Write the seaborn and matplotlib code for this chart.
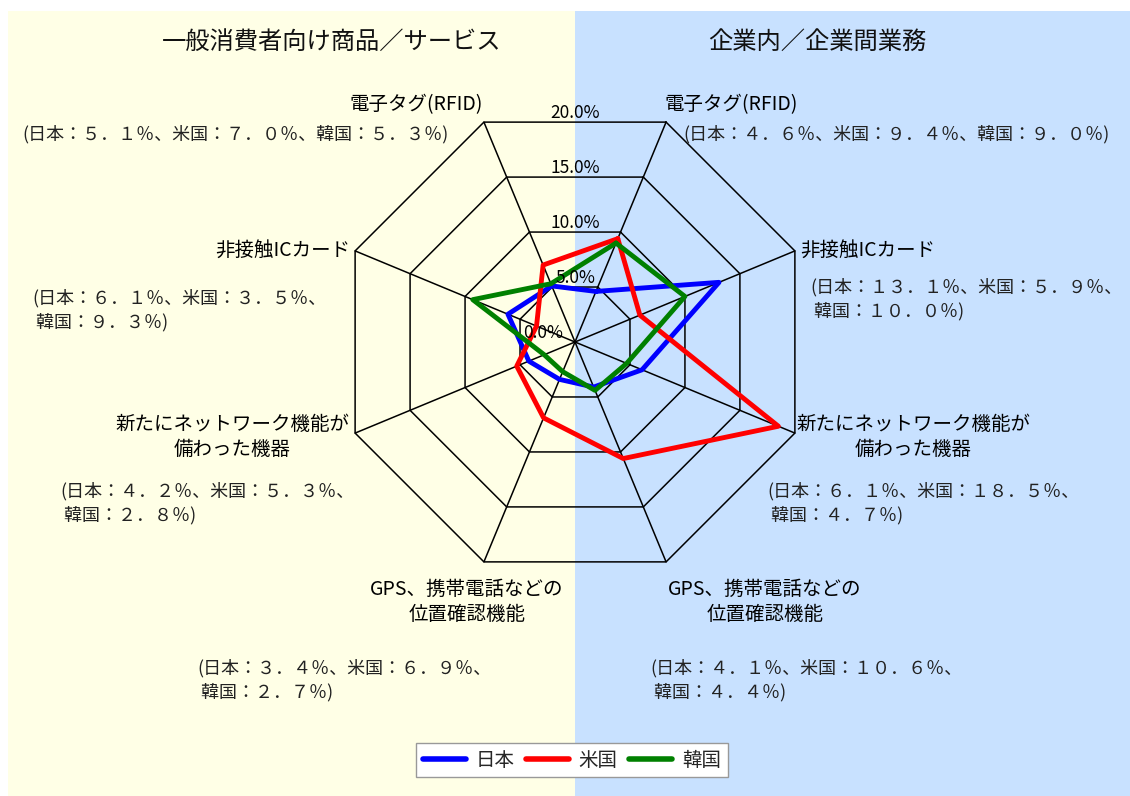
import numpy as np
import pandas as pd
import matplotlib
matplotlib.use("Agg")
import matplotlib.pyplot as plt
import seaborn as sns
from matplotlib.patches import Rectangle

# categories (same four items on each side)
categories = ["電子タグ(RFID)", "非接触ICカード",
              "新たにネットワーク機能が\n備わった機器",
              "GPS、携帯電話などの\n位置確認機能"]
countries = ["日本", "米国", "韓国"]

# 一般消費者向け商品／サービス (left half)
consumer_jp = [5.1, 6.1, 4.2, 3.4]
consumer_us = [7.0, 3.5, 5.3, 6.9]
consumer_kr = [5.3, 9.3, 2.8, 2.7]

# 企業内／企業間業務 (right half)
business_jp = [4.6, 13.1, 6.1, 4.1]
business_us = [9.4, 5.9, 18.5, 10.6]
business_kr = [9.0, 10.0, 4.7, 4.4]

r_ticks = [0, 5, 10, 15, 20]
colors = {"日本": "#0000FF", "米国": "#FF0000", "韓国": "#008000"}

W, H = 1130, 796


def px(x, y):
    return x / W, 1 - y / H


FW = str.maketrans("0123456789.%", "０１２３４５６７８９．％")


def fmt(v):
    return f"{v:.1f}%".translate(FW)


def value_text(jp, us, kr, split):
    a = f"(日本：{fmt(jp)}、米国：{fmt(us)}、"
    b = f"韓国：{fmt(kr)})"
    return a + ("\n " + b if split else b)


sns.set_theme(style="white")
plt.rcParams["font.family"] = ["Noto Sans CJK JP", "DejaVu Sans"]

fig = plt.figure(figsize=(W / 100, H / 100), dpi=100)
fig.patch.set_facecolor("white")
fig.add_artist(Rectangle(px(8, 796), 567 / W, 785 / H, transform=fig.transFigure,
                         facecolor="#FFFFE6", edgecolor="none", zorder=0))
fig.add_artist(Rectangle(px(575, 796), 555 / W, 785 / H, transform=fig.transFigure,
                         facecolor="#C8E1FF", edgecolor="none", zorder=0))

# radar axes: center (575, 342), outer radius 238 px
ax = fig.add_axes([337 / W, 1 - 580 / H, 476 / W, 476 / H], projection="polar")
ax.set_facecolor("none")
ax.set_theta_zero_location("N")
ax.set_theta_direction(-1)
ax.set_ylim(0, 20)
ax.grid(False)
ax.spines["polar"].set_visible(False)

n = 8
angles = np.deg2rad(22.5 + 45 * np.arange(n))
closed = np.append(angles, angles[0] + 2 * np.pi)

# octagonal grid
for lv in r_ticks[1:]:
    ax.plot(closed, [lv] * (n + 1), color="black", lw=1.1, zorder=1, clip_on=False)
for a in angles:
    ax.plot([a, a], [0, 20], color="black", lw=1.1, zorder=1, clip_on=False)

# radar order: right side top->bottom, then left side bottom->top
series = {
    "日本": business_jp + consumer_jp[::-1],
    "米国": business_us + consumer_us[::-1],
    "韓国": business_kr + consumer_kr[::-1],
}
rows = []
for c in countries:
    vals = series[c] + [series[c][0]]
    for t, v in zip(closed, vals):
        rows.append({"country": c, "theta": t, "value": v})
df = pd.DataFrame(rows)

sns.lineplot(data=df, x="theta", y="value", hue="country", hue_order=countries,
             palette=colors, sort=False, estimator=None, units="country",
             lw=3.5, ax=ax, zorder=3)
ax.set_xlabel("")
ax.set_ylabel("")
ax.set_xticks([])
ax.set_yticks([])
ax.set_ylim(0, 20)

# radial tick labels
for lv in r_ticks:
    xoff = -32 if lv == 0 else 0
    ax.annotate(f"{lv:.1f}%", xy=(0, lv * np.cos(np.deg2rad(22.5))),
                xytext=(xoff * 0.72, 0), textcoords="offset points",
                ha="center", va="bottom", fontsize=12.5, color="black", zorder=5)

# titles
fig.text(*px(332, 42), "一般消費者向け商品／サービス", ha="center", va="center",
         fontsize=17.5, color="#111111")
fig.text(*px(817, 42), "企業内／企業間業務", ha="center", va="center",
         fontsize=17.5, color="#111111")

lab_kw = dict(fontsize=14, color="black", linespacing=1.3)
val_kw = dict(fontsize=13, color="#222222", linespacing=1.4, ha="left", va="center")

# right side (企業)
fig.text(*px(665, 105), categories[0], ha="left", va="center", **lab_kw)
fig.text(*px(683, 134), value_text(business_jp[0], business_us[0], business_kr[0], False), **val_kw)
fig.text(*px(800, 250), categories[1], ha="left", va="center", **lab_kw)
fig.text(*px(810, 299), value_text(business_jp[1], business_us[1], business_kr[1], True), **val_kw)
fig.text(*px(913, 437), categories[2], ha="center", va="center", **lab_kw)
fig.text(*px(767, 503), value_text(business_jp[2], business_us[2], business_kr[2], True), **val_kw)
fig.text(*px(765, 602), categories[3], ha="center", va="center", **lab_kw)
fig.text(*px(650, 680), value_text(business_jp[3], business_us[3], business_kr[3], True), **val_kw)

# left side (消費者)
fig.text(*px(483, 105), categories[0], ha="right", va="center", **lab_kw)
fig.text(*px(22, 134), value_text(consumer_jp[0], consumer_us[0], consumer_kr[0], False), **val_kw)
fig.text(*px(350, 250), categories[1], ha="right", va="center", **lab_kw)
fig.text(*px(32, 310), value_text(consumer_jp[1], consumer_us[1], consumer_kr[1], True), **val_kw)
fig.text(*px(232, 437), categories[2], ha="center", va="center", **lab_kw)
fig.text(*px(60, 503), value_text(consumer_jp[2], consumer_us[2], consumer_kr[2], True), **val_kw)
fig.text(*px(467, 602), categories[3], ha="center", va="center", **lab_kw)
fig.text(*px(197, 680), value_text(consumer_jp[3], consumer_us[3], consumer_kr[3], True), **val_kw)

# legend
handles, labels = ax.get_legend_handles_labels()
if ax.get_legend() is not None:
    ax.get_legend().remove()
for h in handles:
    h.set_linewidth(4)
leg = fig.legend(handles, labels, loc="center", bbox_to_anchor=px(572, 760),
                 ncol=3, frameon=True, fancybox=False, fontsize=14,
                 handlelength=2.2, handletextpad=0.5, columnspacing=0.6,
                 borderpad=0.35)
leg.get_frame().set_edgecolor("#999999")
leg.get_frame().set_facecolor("white")
leg.get_frame().set_alpha(1)

fig.savefig("out.png", dpi=100)
